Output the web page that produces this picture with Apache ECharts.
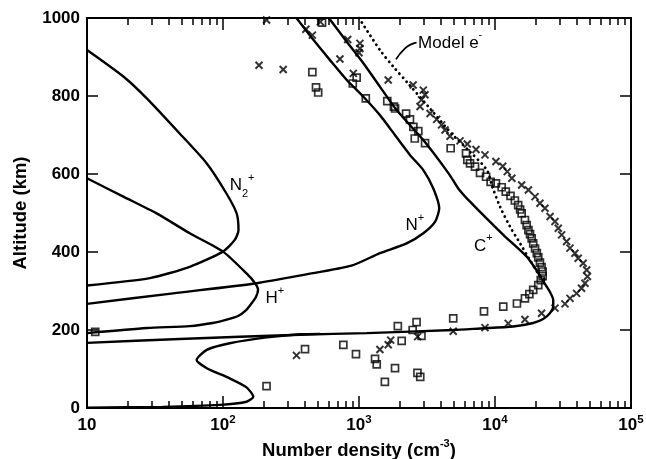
<!DOCTYPE html>
<html><head><meta charset="utf-8">
<script src="https://cdn.jsdelivr.net/npm/echarts@6/dist/echarts.min.js"></script>
<style>html,body{margin:0;padding:0;background:#fff}#c{width:646px;height:459px}</style>
</head><body><div id="c"></div>
<script>
// ---- tick labels ----
const xMajorTicks = [10, 100, 1000, 10000, 100000];
const xTickExponents = ['', '2', '3', '4', '5'];
const xMinorTicks = [20,30,40,50,60,70,80,90,200,300,400,500,600,700,800,900,2000,3000,4000,5000,6000,7000,8000,9000,20000,30000,40000,50000,60000,70000,80000,90000];
const yTicks = [0, 200, 400, 600, 800, 1000];

// ---- model curves [number density, altitude] ----
const n2Plus = [[10,918],[18.5,850],[27.5,794],[48,704],[76,627],[106,550],[126,499],[130,456],[122,431],[100,401],[57,362],[29,333],[10,314]];
const hPlus = [[10,589],[18.5,542],[32.5,499],[57,448],[100,401],[149,345],[172,320],[181,303],[175,285],[163,269],[148,251],[129,236],[105,226],[84,218],[57,210],[27.6,205],[10,192]];
const nPlus = [[347,1000],[462,944],[612,892],[813,841],[1077,798],[1425,751],[1690,717],[2370,649],[2970,610],[3520,563],[3890,512],[3630,478],[2970,448],[2240,422],[1425,397],[880,365],[400,342],[177,320],[43,294],[10,267]];
const cPlus = [[600,1000],[813,939],[1077,884],[1425,824],[1890,764],[2970,687],[4570,601],[5370,563],[6550,529],[11500,444],[17100,388],[20300,352],[22600,325],[25300,298],[26800,277],[26800,260],[25300,243],[22600,228],[19100,218],[13600,209],[7760,204],[4930,200],[1140,192],[368,188],[48,177],[10,167]];
const lowBranch = [[520,190],[368,189],[209,181],[112,166],[76,149],[64,123],[76,102],[112,76],[149,53],[167,29],[149,16],[95,8],[36,3],[10,1]];
const modelE = [[1000,1000],[1425,918],[1790,875],[2300,832],[3400,764],[4900,700],[6550,657],[8720,610],[9500,570],[10900,516],[12900,465],[15300,422],[18100,379],[20800,345],[23000,330]];
const leader = [[1870,894],[2180,922],[2440,933],[2650,937]];

// ---- measurements ----
const crossObs = [[209,995],[184,879],[277,868],[347,135],[407,971],[454,956],[520,990],[826,945],[1016,935],[1016,922],[1000,911],[724,895],[908,858],[1640,841],
[2500,828],[2970,815],[3057,803],[2880,790],[2810,773],[3330,755],[3725,740],[4050,726],[4290,713],[4670,697],[5530,685],[6260,677],[7250,663],[8440,649],[10160,632],[11400,620],[12300,606],[13300,589],[15700,572],[17600,559],[19700,542],[21400,525],[23300,512],[25400,491],[27600,478],[29200,461],[30900,444],[33600,427],[35600,410],[38700,397],[40900,384],[44500,371],[47200,354],[47800,337],[45900,320],[43300,307],[39800,294],[35600,281],[32700,267],[27600,256],[22000,243],[16600,227],[12500,217],[8440,206],[4930,197],[2700,183],[1710,174],[1640,162],[1425,150]];
const squareObs = [[11.5,195],[454,861],[483,822],[501,809],[535,988],[961,847],[900,832],[1122,794],[1614,787],[1842,768],[2219,755],[1807,773],[2370,740],[2510,721],[2730,710],[2570,691],[3060,679],[4720,666],[6120,653],[6260,636],[6550,627],
[7130,619],[7760,603],[8600,593],[9290,580],[10160,576],[11200,566],[12000,555],[13000,544],[14000,532],[14800,520],[15300,509],[15700,499],[16600,482],[17100,469],[17600,456],[18100,446],[18600,435],[19100,422],[19700,409],[20300,397],[20800,386],[21400,373],[22000,361],[22400,350],[22400,338],[21700,328],[20800,315],[19100,303],[17900,292],[16600,281],[14500,268],[11500,260],[8300,248],
[4930,230],[2650,220],[1930,210],[2480,200],[2880,185],[2060,172],[767,162],[950,138],[401,151],[1312,126],[1350,112],[1840,102],[1550,67],[2690,90],[2820,80],[209,56]];

const FONT = 'Liberation Sans';
const chart = echarts.init(document.getElementById('c'), null, {renderer:'canvas'});

function xAxisBase(pos, extra){
  return Object.assign({type:'log', logBase:10, min:10, max:100000, position:pos,
    axisLine:{show:true, lineStyle:{color:'#000', width:2}},
    splitLine:{show:false}, minorTick:{show:false}, axisLabel:{show:false}}, extra);
}
const lineStyle = {color:'#000', width:2.4};
const labelRich = {
  b:{fontFamily:FONT, fontSize:17, color:'#000', lineHeight:22, verticalAlign:'bottom'},
  sub:{fontFamily:FONT, fontSize:11, color:'#000', lineHeight:22, verticalAlign:'bottom', padding:[0,0,-5,0]},
  sup:{fontFamily:FONT, fontSize:11, color:'#000', lineHeight:22, verticalAlign:'top'}
};
function tag(x, y, text){
  return {coord:[x,y], symbol:'circle', symbolSize:0,
    label:{show:true, position:'right', distance:0, formatter:text, rich:labelRich}};
}
function curve(name, data, extra){
  return Object.assign({name, type:'line', data, xAxisIndex:0, yAxisIndex:0, showSymbol:false, symbol:'none',
    smooth:0.22, lineStyle, z:3, silent:true, animation:false}, extra||{});
}

chart.setOption({
  animation:false,
  backgroundColor:'#fff',
  grid:{left:87, right:15, top:18, bottom:51, containLabel:false, outerBoundsMode:'none'},
  xAxis:[
    xAxisBase('bottom', {
      name:'{t|Number density (cm}{s|-3}{t|)}', nameLocation:'middle', nameGap:25,
      nameTextStyle:{rich:{t:{fontFamily:FONT, fontWeight:'bold', fontSize:18.5, color:'#000', lineHeight:22, verticalAlign:'bottom'},
                           s:{fontFamily:FONT, fontWeight:'bold', fontSize:11, color:'#000', lineHeight:22, verticalAlign:'top'}}},
      axisTick:{show:true, inside:true, length:12, lineStyle:{color:'#000', width:1.5}, customValues:xMajorTicks},
      axisLabel:{show:true, margin:6, customValues:xMajorTicks, color:'#000',
        formatter:function(v){ const i = xMajorTicks.indexOf(v); return i===0 ? '{b|10}' : '{b|10}{s|'+xTickExponents[i]+'}'; },
        rich:{b:{fontFamily:FONT, fontWeight:'bold', fontSize:17, color:'#000', lineHeight:20, verticalAlign:'bottom'},
              s:{fontFamily:FONT, fontWeight:'bold', fontSize:11.5, color:'#000', lineHeight:20, verticalAlign:'top'}}}
    }),
    xAxisBase('bottom', {axisTick:{show:true, inside:true, length:7, lineStyle:{color:'#000', width:1.5}, customValues:xMinorTicks}}),
    xAxisBase('top', {axisTick:{show:true, inside:true, length:12, lineStyle:{color:'#000', width:1.5}, customValues:xMajorTicks}}),
    xAxisBase('top', {axisTick:{show:true, inside:true, length:7, lineStyle:{color:'#000', width:1.5}, customValues:xMinorTicks}})
  ],
  yAxis:[
    {type:'value', min:0, max:1000, interval:200, position:'left',
      name:'Altitude (km)', nameLocation:'middle', nameGap:57, nameRotate:90,
      nameTextStyle:{fontFamily:FONT, fontWeight:'bold', fontSize:18.5, color:'#000'},
      axisLine:{show:true, lineStyle:{color:'#000', width:2}},
      axisTick:{show:true, inside:true, length:11, lineStyle:{color:'#000', width:1.5}},
      axisLabel:{show:true, margin:7, fontFamily:FONT, fontWeight:'bold', fontSize:17, color:'#000', customValues:yTicks,
        formatter:function(v){ return String(v); }},
      splitLine:{show:false}},
    {type:'value', min:0, max:1000, interval:200, position:'right',
      axisLine:{show:true, lineStyle:{color:'#000', width:2}},
      axisTick:{show:true, inside:true, length:11, lineStyle:{color:'#000', width:1.5}},
      axisLabel:{show:false}, splitLine:{show:false}}
  ],
  series:[
    curve('N2+', n2Plus, {markPoint:{data:[tag(112,577,'{b|N}{sub|2}{sup|+}')]}}),
    curve('H+', hPlus, {markPoint:{data:[tag(205,287,'{b|H}{sup|+}')]}}),
    curve('N+', nPlus, {markPoint:{data:[tag(2200,474,'{b|N}{sup|+}')]}}),
    curve('C+', cPlus, {markPoint:{data:[tag(7000,422,'{b|C}{sup|+}')]}}),
    curve('low', lowBranch),
    curve('Model e-', modelE, {smooth:0.3, lineStyle:{color:'#000', width:2.8, type:[0.1,5.2], cap:'round'},
      markPoint:{data:[tag(2720,942,'{b|Model e}{sup|-}')]}}),
    curve('leader', leader, {smooth:0.6, lineStyle:{color:'#000', width:1.8}}),
    {name:'x obs', type:'scatter', data:crossObs, xAxisIndex:0, yAxisIndex:0, z:4,
      symbol:'path://M0,0L10,10M10,0L0,10', symbolSize:7,
      itemStyle:{color:'rgba(0,0,0,0)', borderColor:'#000', borderWidth:2}},
    {name:'sq obs', type:'scatter', data:squareObs, xAxisIndex:0, yAxisIndex:0, z:4,
      symbol:'rect', symbolSize:7,
      itemStyle:{color:'rgba(255,255,255,0)', borderColor:'#000', borderWidth:1.7}}
  ]
});
</script></body></html>
